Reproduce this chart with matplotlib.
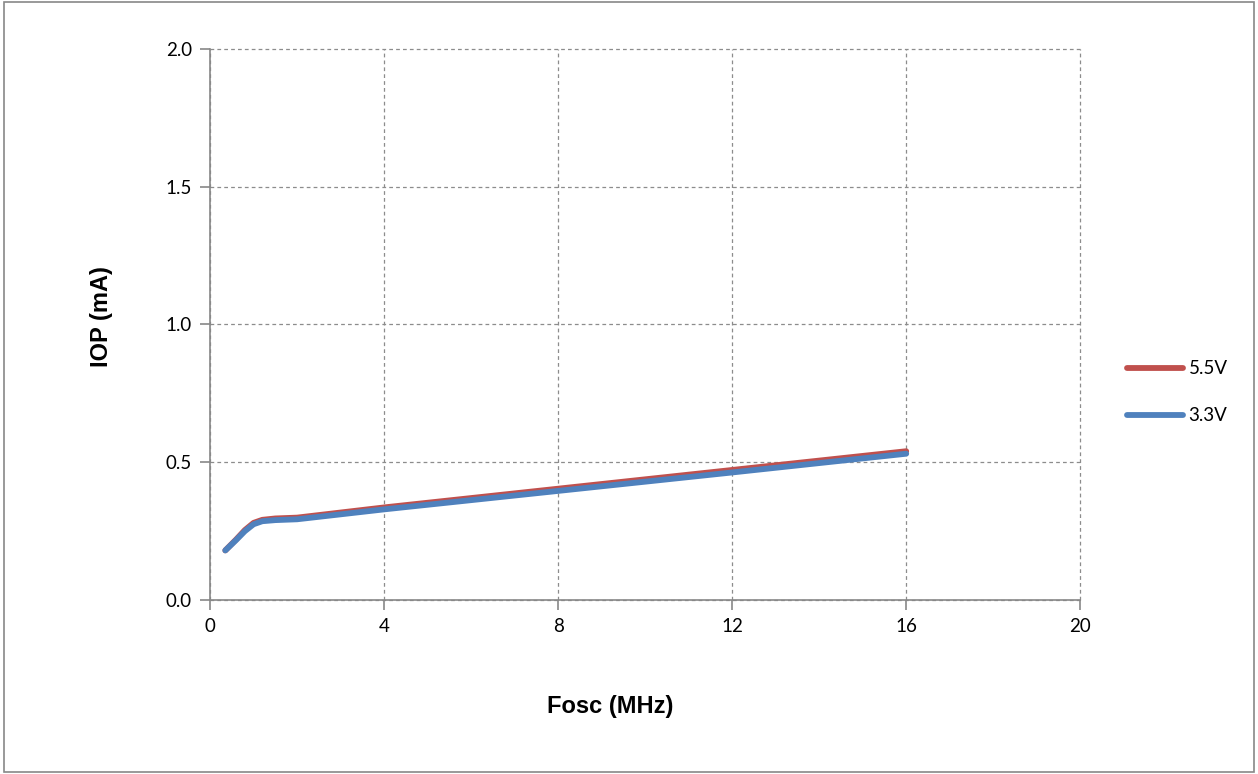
import matplotlib
matplotlib.use('Agg')
import matplotlib.pyplot as plt
from matplotlib.ticker import FormatStrFormatter
import numpy as np

# frequency (MHz) and operating current (mA)
fosc = [0.35, 0.6, 0.8, 1.0, 1.2, 1.5, 2.0, 4.0, 8.0, 12.0, 16.0]
iop_55 = [0.180, 0.220, 0.254, 0.280, 0.291, 0.296, 0.299, 0.336, 0.404, 0.472, 0.540]
iop_33 = [0.180, 0.218, 0.250, 0.275, 0.286, 0.290, 0.293, 0.329, 0.396, 0.463, 0.531]

xticks = [0, 4, 8, 12, 16, 20]
yticks = [0.0, 0.5, 1.0, 1.5, 2.0]

plt.rcParams['font.family'] = ['Lato', 'DejaVu Sans']

fig = plt.figure(figsize=(12.58, 7.74), dpi=100)
ax = fig.add_axes([0.167, 0.2248, 0.6917, 0.7119])

ax.plot(fosc, iop_55, color='#C0504D', lw=4.2, solid_capstyle='round',
        solid_joinstyle='round', label='5.5V')
ax.plot(fosc, iop_33, color='#4F81BD', lw=4.2, solid_capstyle='round',
        solid_joinstyle='round', label='3.3V')

ax.set_xlim(0, 20)
ax.set_ylim(0, 2.0)
ax.set_xticks(xticks)
ax.set_yticks(yticks)
ax.yaxis.set_major_formatter(FormatStrFormatter('%.1f'))
ax.grid(True, color='#8c8c8c', linestyle=(0, (3, 2.5)), linewidth=0.9)
for gl in ax.get_xgridlines() + ax.get_ygridlines():
    gl.set_clip_on(False)
ax.set_axisbelow(True)
for s in ['top', 'right']:
    ax.spines[s].set_visible(False)
for s in ['left', 'bottom']:
    ax.spines[s].set_color('#888888')
    ax.spines[s].set_linewidth(1.2)
    ax.spines[s].set_zorder(3)
ax.tick_params(direction='out', length=7, width=1.2, color='#888888', labelsize=13.5, pad=6)

ax.set_xlabel('Fosc (MHz)', fontsize=17, fontweight='bold', family='Liberation Sans')
ax.set_ylabel('IOP (mA)', fontsize=17, fontweight='bold', family='Liberation Sans')
ax.xaxis.set_label_coords(0.46, -0.172)
ax.yaxis.set_label_coords(-0.111, 0.514)

ax.legend(loc='center left', bbox_to_anchor=(1.034, 0.377), frameon=False,
          fontsize=13.5, handlelength=3.0, labelspacing=1.6, handletextpad=0.3)

fig.patches.append(plt.Rectangle((0.003, 0.003), 0.994, 0.994, transform=fig.transFigure,
                                 fill=False, edgecolor='#888888', linewidth=1.2))

plt.savefig('out.png', dpi=100)
